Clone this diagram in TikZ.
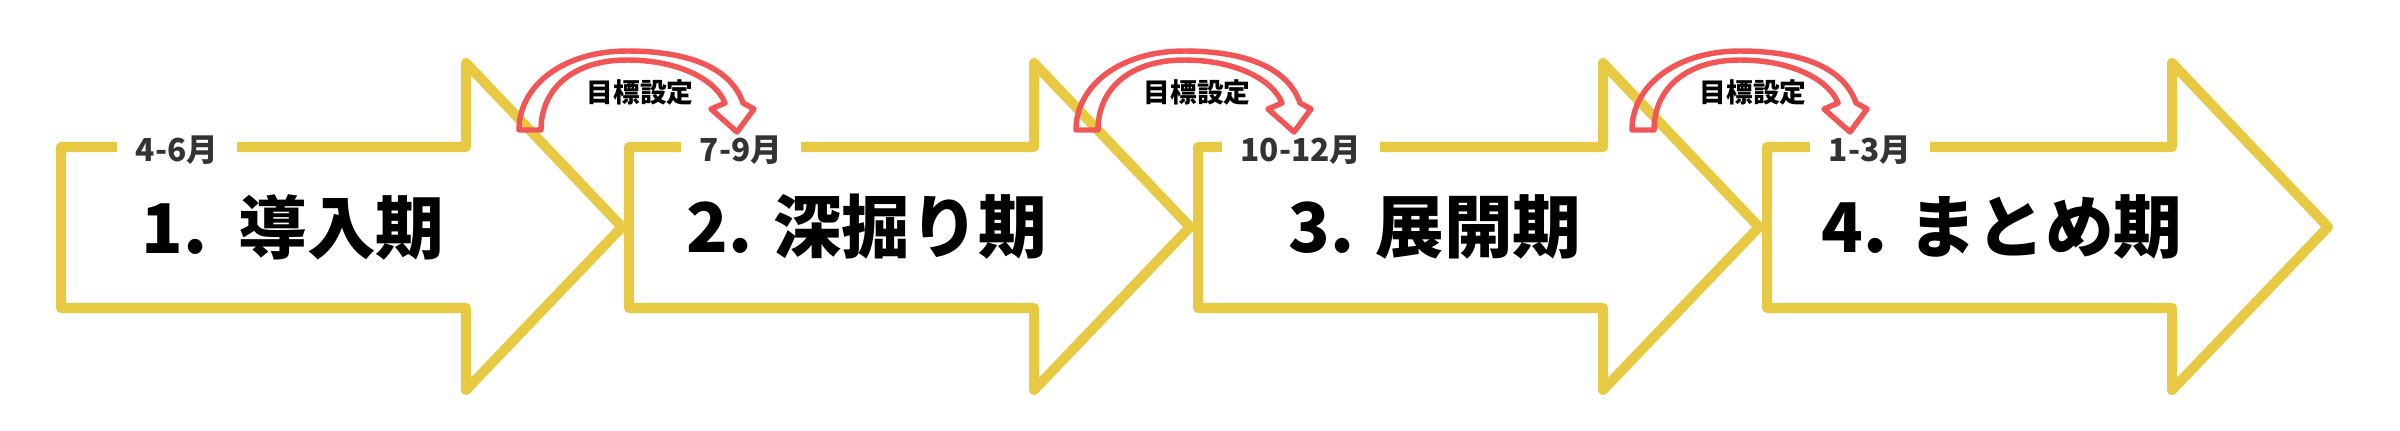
\documentclass[tikz,border=0pt]{standalone}
\usepackage{fontspec}
\newfontfamily\jp{Noto Sans CJK JP}
\definecolor{phaseyellow}{HTML}{E8C944}
\definecolor{goalred}{HTML}{F25555}
\definecolor{monthgray}{HTML}{333333}

\newcommand{\dims}{
\def\bdlen{405}   % left edge to the notch of the head
\def\arlen{561}   % left edge to the tip
\def\hdtop{63}
\def\hdbot{390}
\def\bdtop{147}
\def\bdbot{308}
\def\tipy{227}
}
\newcommand{\scl}{0.01}

% yellow outline of one phase, #1 = left edge
\newcommand{\phasearrow}[1]{
  \draw[phaseline] ({#1},{\bdtop}) -- ({#1+\bdlen},{\bdtop}) -- ({#1+\bdlen},{\hdtop})
    -- ({#1+\arlen},{\tipy}) -- ({#1+\bdlen},{\hdbot}) -- ({#1+\bdlen},{\bdbot})
    -- ({#1},{\bdbot}) -- cycle;
}
% hollow curved arrow, #1 = left end of its base
\newcommand{\goalarrow}[1]{
  \draw[goalline,shift={(#1,0)}] (0,130) -- (22,130)
    .. controls (22,88) and (55,60) .. (108,60)
    .. controls (160,60) and (197,80) .. (206,103)
    -- (192,109) -- (218,132) -- (235,109) -- (224,103)
    .. controls (212,68) and (170,51) .. (108,51)
    .. controls (45,51) and (0,85) .. (0,130) -- cycle;
}

\begin{document}
\begin{tikzpicture}[x=\scl cm,y=-\scl cm,
  phaseline/.style={draw=phaseyellow,line width=2.85pt,line join=round},
  goalline/.style={draw=goalred,line width=1.55pt,line join=round},
  monthlbl/.style={fill=white,text=monthgray,inner xsep=0.19cm,inner ysep=0pt,
    font=\jp\bfseries\fontsize{9}{10}\selectfont},
  titlelbl/.style={inner sep=0pt,font=\jp\bfseries\fontsize{19.5}{22}\selectfont},
  goallbl/.style={inner sep=0pt,font=\jp\bfseries\fontsize{7.6}{9}\selectfont}]
  \dims
  \useasboundingbox (0,0) rectangle (2400,430);

  \phasearrow{61}
  \phasearrow{629}
  \phasearrow{1198}
  \phasearrow{1767}

  \node[monthlbl] (m1) at (177,150) {4-6月};
  \node[monthlbl] (m2) at (741,150) {7-9月};
  \node[monthlbl] (m3) at (1301,150) {10-12月};
  \node[monthlbl] (m4) at (1870,150) {1-3月};

  \node[titlelbl] (t1) at (293,227) {1.\ \ 導入期};
  \node[titlelbl] (t2) at (867,227) {2. 深掘り期};
  \node[titlelbl] (t3) at (1435,227) {3. 展開期};
  \node[titlelbl] (t4) at (2002,227) {4. まとめ期};

  \goalarrow{519}
  \goalarrow{1076}
  \goalarrow{1632}
  \node[goallbl] (g1) at (640,92) {目標設定};
  \node[goallbl] (g2) at (1197,92) {目標設定};
  \node[goallbl] (g3) at (1753,92) {目標設定};
\end{tikzpicture}
\end{document}
